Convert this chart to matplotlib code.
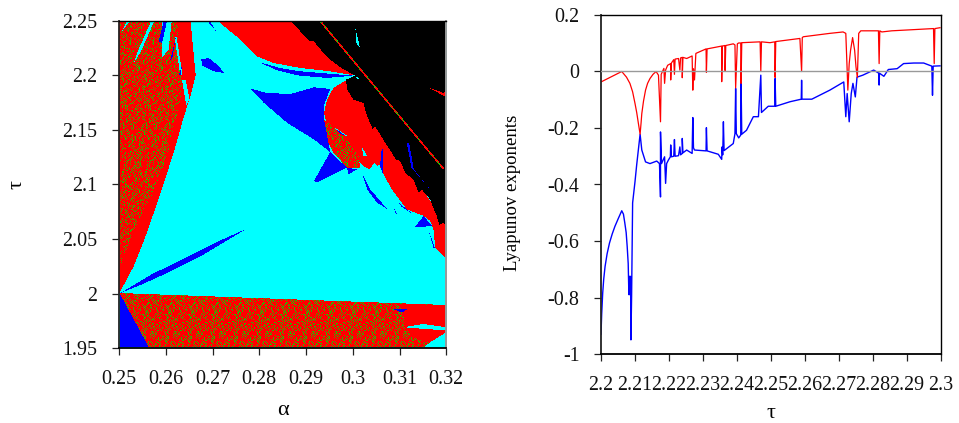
"""
Карта режимов (alpha, tau) и показатели Ляпунова
"""

import numpy as np
import matplotlib
matplotlib.use('Agg')
import matplotlib.pyplot as plt
from matplotlib.path import Path

plt.rcParams['font.family'] = ['Liberation Serif', 'DejaVu Serif']

# области карты режимов (alpha, tau)
red_left = [(.25, 2.0), (.2531, 2.025), (.2559, 2.0555), (.2588, 2.0921), (.2616, 2.1287), (.2638, 2.1622),
            (.2652, 2.1805), (.2663, 2.2), (.2652, 2.25), (.25, 2.25)]
speck_left = [(.25, 2.25), (.2623, 2.25), (.2634, 2.19), (.2630, 2.1774), (.2602, 2.1256), (.2566, 2.0860),
              (.2531, 2.0585), (.2502, 2.025), (.25, 2.025)]
speck_low = [(.25, 2.0), (.32, 1.989), (.32, 1.95), (.2563, 1.95)]
red_low = [(.3095, 1.99), (.32, 1.989), (.32, 1.955), (.3151, 1.955), (.3122, 1.962), (.3108, 1.97), (.3112, 1.98)]
red_top = [(.2709, 2.25), (.2866, 2.25), (.2916, 2.2308), (.2951, 2.214), (.3005, 2.1994), (.2951, 2.2034),
           (.2887, 2.2064), (.283, 2.211), (.2794, 2.2171), (.2759, 2.2323)]
red_circle = [(.2987, 2.1957), (.2958, 2.1881), (.2944, 2.1774), (.2938, 2.1652), (.2951, 2.1409), (.2987, 2.1256),
              (.3012, 2.121), (.3022, 2.1165), (.3035, 2.1134), (.3046, 2.1195), (.3052, 2.1165), (.3056, 2.118),
              (.3063, 2.1104), (.3083, 2.0951), (.3115, 2.0768), (.3151, 2.0707), (.3165, 2.0662), (.3172, 2.0585),
              (.3176, 2.0418), (.32, 2.0311), (.32, 2.06), (.31, 2.13), (.30, 2.19)]
black_top = [(.2866, 2.25), (.32, 2.25), (.32, 2.0585), (.3194, 2.0646), (.3185, 2.0625), (.3179, 2.0707),
             (.3172, 2.078), (.3165, 2.086), (.3148, 2.0945), (.3140, 2.0925), (.3129, 2.1043), (.3112, 2.1098),
             (.3101, 2.121), (.3092, 2.1225), (.3069, 2.1378), (.3047, 2.153), (.3042, 2.1505), (.303, 2.1622),
             (.3022, 2.1744), (.3001, 2.1774), (.2987, 2.1866), (.2985, 2.1957), (.3005, 2.1994), (.2978, 2.2055),
             (.2951, 2.214), (.2938, 2.2195), (.2916, 2.2308), (.2905, 2.2315), (.2885, 2.241)]
speck_lens = [(.2938, 2.1591), (.2944, 2.1409), (.2958, 2.1287), (.2987, 2.115), (.3015, 2.115), (.3012, 2.1256),
              (.2987, 2.1409), (.2958, 2.1515)]
speck_diag = [(.2926, 2.25), (.2931, 2.25), (.3197, 2.1134), (.3192, 2.1134)]
red_streak = [(.3158, 2.189), (.3194, 2.1835), (.32, 2.1872), (.32, 2.1805), (.3194, 2.181)]
cyan_areas = [
    [(.2568, 2.25), (.2575, 2.25), (.2547, 2.2226), (.2531, 2.211), (.2540, 2.2226)],
    [(.2516, 2.25), (.2523, 2.25), (.2505, 2.24)],
    [(.2591, 2.25), (.2612, 2.25), (.2605, 2.2232), (.2592, 2.2165), (.2590, 2.2232)],
    [(.3108, 1.9686), (.3151, 1.9716), (.32, 1.9686), (.32, 1.9656), (.3151, 1.9671)],
    [(.3165, 1.9549), (.32, 1.964), (.32, 1.95), (.3151, 1.95)],
    [(.3005, 2.243), (.3015, 2.2247), (.3007, 2.2293)],
    [(.3005, 2.199), (.3015, 2.197), (.3008, 2.1965)],
    [(.2618, 2.235), (.2622, 2.235), (.2635, 2.2), (.263, 2.2)],
    [(.2634, 2.195), (.2642, 2.195), (.265, 2.178), (.2643, 2.172)],
    [(.2956, 2.153), (.2992, 2.143), (.2972, 2.146)],
    [(.3019, 2.134), (.303, 2.1256), (.3022, 2.1256)],
]
blue_areas = [
    [(.25, 2.0), (.2563, 1.95), (.25, 1.95)],
    [(.2602, 2.25), (.2595, 2.25), (.2584, 2.2308), (.2591, 2.2293)],
    [(.262, 2.2338), (.2609, 2.214), (.2613, 2.215)],
    [(.2634, 2.2095), (.2627, 2.2), (.2631, 2.2)],
    [(.2687, 2.25), (.2709, 2.239), (.2692, 2.25)],
    [(.2798, 2.2119), (.2844, 2.2064), (.2887, 2.2034), (.3001, 2.1994), (.2944, 2.1973), (.288, 2.1997),
     (.2837, 2.2043)],
    [(.278, 2.1875), (.2816, 2.1835), (.2866, 2.1826), (.2916, 2.1887), (.2951, 2.1872), (.2937, 2.1713),
     (.2938, 2.1591), (.2951, 2.1293), (.2916, 2.1409), (.2859, 2.1561), (.2809, 2.1744)],
    [(.2951, 2.1293), (.2987, 2.115), (.2923, 2.1012), (.2916, 2.1027)],
    [(.2987, 2.115), (.3008, 2.1134), (.299, 2.1088)],
    [(.2675, 2.2146), (.2691, 2.2155), (.2709, 2.2095), (.2725, 2.2018), (.2702, 2.2034), (.2677, 2.2085)],
    [(.2502, 2.0), (.2566, 2.0165), (.2638, 2.0317), (.2709, 2.0469), (.2773, 2.0591), (.2744, 2.0518),
     (.2673, 2.0335), (.2602, 2.0183), (.2545, 2.0073)],
    [(.3019, 2.1104), (.3037, 2.0951), (.3072, 2.0774), (.3051, 2.083), (.303, 2.0951)],
    [(.3065, 2.1332), (.3065, 2.1073), (.3058, 2.1165), (.306, 2.13)],
    [(.3133, 2.061), (.3151, 2.0707), (.3169, 2.0616), (.3151, 2.0607)],
    [(.3161, 2.0585), (.3176, 2.0402), (.3197, 2.0326), (.3172, 2.0418)],
    [(.3087, 2.0784), (.3096, 2.0713), (.309, 2.0738)],
    [(.3097, 2.083), (.3133, 2.0707), (.3104, 2.079)],
    [(.3087, 1.985), (.3115, 1.985), (.3105, 1.982)],
    [(.2965, 2.15), (.2985, 2.144), (.2972, 2.146)],
    [(.3115, 2.1378), (.312, 2.1378), (.313, 2.1134), (.3165, 2.095), (.3125, 2.115)],
]

# постоянный узор красно-зеленых точек и сдвиг его строк
speck_tile = [
    '01000100100000110000100',
    '00010000001001000100001',
    '10000110000100000010010',
    '00100000100000011000000',
    '00001001000110000001001',
    '11000000010000100100000',
    '00010100000100000000110',
    '00000001100001010000000',
    '01001000000000000101001',
    '00100010010110000000100',
    '10000000100000001010000',
    '00011000000101000000011',
    '01000001000000100100000',
    '00000100011000000001000',
    '10100000000010010000101',
    '00001010000000100010000',
    '01000000110100000000010',
    '00010000000000011001000',
    '10000101001000000100000',
]
speck_shift = [0, 5, 11, 2, 17, 8, 20, 13, 3, 9, 15, 1, 6, 19, 12, 4, 22]

# показатели Ляпунова
tau_red = [2.2, 2.2061, 2.2075, 2.2085, 2.2093, 2.21, 2.2105, 2.211, 2.2115, 2.2118, 2.212, 2.2125, 2.2131, 2.2137,
           2.2144, 2.2153, 2.2162, 2.2169, 2.2175, 2.2177, 2.2185,
           2.2187, 2.219, 2.2196, 2.2205, 2.2205, 2.2207, 2.2214, 2.2216, 2.2218, 2.2228, 2.2232, 2.2234, 2.2239,
           2.2239, 2.2241, 2.2252, 2.2268, 2.227, 2.2272, 2.2275, 2.2279, 2.2309, 2.231, 2.2312, 2.2355, 2.2355,
           2.2357, 2.2364, 2.2365, 2.2367, 2.2389, 2.2394, 2.2396, 2.2401, 2.2405, 2.2411, 2.2412, 2.2414, 2.2468,
           2.247, 2.2472, 2.2497, 2.2511, 2.2512, 2.2514, 2.2585, 2.259, 2.2592, 2.2595, 2.2673, 2.2712, 2.272,
           2.2724, 2.2726, 2.273, 2.2734, 2.274, 2.2746, 2.275, 2.2754, 2.2758, 2.2764, 2.2816, 2.2818, 2.282,
           2.2826, 2.2855, 2.2978, 2.298, 2.2982, 2.2997]
lyap_red = [-.037, 0, -.02, -.042, -.072, -.113, -.145, -.184, -.222, -.18, -.149, -.105, -.066, -.042,
            -.025, -.01, 0, -.013, -.178, -.01, .011,
            -.042, .005, .022, .028, -.03, .03, .042, -.01, .044, .046, .005, .048, .05,
            -.022, .05, .046, .055, -.066, .01, -.03, .064, .08, -.003, .08, .09, -.036,
            .09, .092, .003, .092, .098, .094, -.058, .098, .101, .101, -.042, .102, .105,
            0, .105, .102, .105, -.021, .106, .117, 0, .12, .123, .135, .14, .135,
            .005, -.066, .028, .075, .12, .075, .016, -.021, .135, .144, .144, .028, .144,
            .14, .144, .152, .028, .152, .155]
tau_blue = [2.2, 2.2002, 2.2005, 2.2008, 2.2012, 2.2018, 2.2025, 2.2033, 2.2041, 2.2051, 2.2061, 2.2066, 2.207,
            2.2074, 2.2077, 2.208, 2.2082, 2.2084, 2.2085, 2.2087, 2.2088,
            2.209, 2.2093, 2.21, 2.2105, 2.2115, 2.212, 2.2131, 2.2144, 2.2164, 2.2172, 2.2175, 2.2175, 2.2178,
            2.2187, 2.219, 2.2193, 2.2198, 2.2204, 2.2205, 2.2207, 2.2214, 2.2216, 2.2218, 2.2228, 2.2232, 2.2234,
            2.2239, 2.2239, 2.2241, 2.2252, 2.2268, 2.227, 2.2272, 2.2275, 2.2309, 2.231, 2.2312, 2.2345, 2.2355,
            2.2356, 2.2358, 2.236, 2.2362, 2.2389, 2.2394, 2.2396, 2.2398, 2.2405, 2.2411, 2.2412, 2.2414, 2.2428,
            2.2448, 2.2463, 2.247, 2.2472, 2.2492, 2.2511, 2.2512, 2.2514, 2.2556, 2.2589, 2.259, 2.2591, 2.262,
            2.2673, 2.2714, 2.272, 2.2724, 2.273, 2.2736, 2.2741, 2.2748, 2.2753, 2.277, 2.2802, 2.2817, 2.2818,
            2.2819, 2.2832, 2.2845, 2.2871, 2.289, 2.292, 2.2949, 2.2973, 2.2975, 2.2977, 2.2997]
lyap_blue = [-.93, -.86, -.784, -.735, -.69, -.645, -.607, -.575, -.548, -.52, -.493, -.505, -.536,
             -.57, -.619, -.68, -.79, -.725, -.79, -.725, -.95,
             -.796, -.465, -.39, -.33, -.222, -.278, -.32, -.326, -.317, -.326, -.444, -.214, -.326,
             -.302, -.396, -.326, -.314, -.302, -.26, -.302, -.3, -.241, -.3, -.298, -.267, -.295,
             -.29, -.237, -.288, -.278, -.29, -.163, -.27, -.278, -.281, -.199, -.281, -.293, -.311,
             -.267, -.295, -.178, -.28, -.255, -.22, -.06, -.22, -.235, -.225, -.042, -.222, -.208,
             -.16, -.16, -.013, -.145, -.123, -.123, -.025, -.123, -.107, -.098, -.031, -.098, -.098,
             -.066, -.037, -.16, -.078, -.178, -.078, -.042, -.09, -.02, -.013, .005, -.006, -.048,
             -.006, -.017, .007, .01, .028, .03, .03, .019, -.084, .019, .02]

alpha_ticks = [0.25, 0.26, 0.27, 0.28, 0.29, 0.3, 0.31, 0.32]
alpha_labels = ['0.25', '0.26', '0.27', '0.28', '0.29', '0.3', '0.31', '0.32']
tau_ticks = [1.95, 2, 2.05, 2.1, 2.15, 2.2, 2.25]
tau_labels = ['1.95', '2', '2.05', '2.1', '2.15', '2.2', '2.25']
line_xticks = [2.2, 2.21, 2.22, 2.23, 2.24, 2.25, 2.26, 2.27, 2.28, 2.29, 2.3]
line_xlabels = ['2.2', '2.21', '2.22', '2.23', '2.24', '2.25', '2.26', '2.27', '2.28', '2.29', '2.3']
line_yticks = [-1, -0.8, -0.6, -0.4, -0.2, 0, 0.2]
line_ylabels = ['-1', '-0.8', '-0.6', '-0.4', '-0.2', '0', '0.2']

CYAN, RED, BLUE, BLACK, SPECK = 0, 1, 2, 3, 4
COLORS = {CYAN: (0, 1, 1), RED: (1, 0, 0), BLUE: (0, 0, 1), BLACK: (0, 0, 0)}
GREEN = (0.15, 0.72, 0.0)


def regime_map(n=328):
    """Собираем карту режимов из областей, поздние закрывают ранние"""
    a = np.linspace(.25, .32, n)
    t = np.linspace(1.95, 2.25, n)
    aa, tt = np.meshgrid(a, t)
    pts = np.column_stack([aa.ravel(), tt.ravel()])
    labels = np.full(aa.shape, CYAN)

    layers = [(red_left, RED), (speck_left, SPECK)]
    layers += [(c, CYAN) for c in cyan_areas[:3]]
    layers += [(speck_low, SPECK), (red_low, RED)]
    layers += [(c, CYAN) for c in cyan_areas[3:5]]
    layers += [(red_top, RED), (red_circle, RED), (black_top, BLACK), (speck_lens, SPECK)]
    layers += [(c, CYAN) for c in cyan_areas[5:]]
    layers += [(b, BLUE) for b in blue_areas]
    layers += [(speck_diag, SPECK), (red_streak, RED)]
    for poly, label in layers:
        labels[Path(poly).contains_points(pts).reshape(aa.shape)] = label

    tile = np.array([[int(c) for c in row] for row in speck_tile])
    rows, cols = np.indices(aa.shape)
    # сдвиг строк, чтобы узор не читался как решетка
    shifts = np.array(speck_shift)[rows % len(speck_shift)]
    green = tile[rows % tile.shape[0], (cols + shifts) % tile.shape[1]] == 1
    rgb = np.zeros(aa.shape + (3,))
    for label, color in COLORS.items():
        rgb[labels == label] = color
    rgb[(labels == SPECK) & ~green] = COLORS[RED]
    rgb[(labels == SPECK) & green] = GREEN
    return rgb


def style_axes(ax):
    for side in ['left', 'bottom']:
        ax.spines[side].set_linewidth(1.3)
    for side in ['top', 'right']:
        ax.spines[side].set_linewidth(1.0)
    ax.spines['left'].set_color('#222222')
    ax.tick_params(direction='out', length=5, width=0.9, pad=10.5, labelsize=14.4, color='#222222', labelcolor='#111111')


fig = plt.figure(figsize=(9.59, 4.23), dpi=100)

ax1 = fig.add_axes([119 / 959, 1 - 348.3 / 423, 327.3 / 959, 327.6 / 423])
ax1.imshow(regime_map(), origin='lower', extent=(.25, .32, 1.95, 2.25), aspect='auto', interpolation='nearest')
ax1.set_xlim(.25, .32)
ax1.set_ylim(1.95, 2.25)
ax1.set_xticks(alpha_ticks, alpha_labels)
ax1.set_yticks(tau_ticks, tau_labels)
style_axes(ax1)
ax1.spines['right'].set_color('#999999')
ax1.spines['right'].set_linewidth(1.4)
ax1.set_xlabel('α', fontsize=16)
ax1.xaxis.set_label_coords(0.5, -0.161)
ax1.set_ylabel('τ', fontsize=16)
ax1.yaxis.set_label_coords(-0.282, 0.5)

ax2 = fig.add_axes([601 / 959, 1 - 354 / 423, 340 / 959, 339 / 423])
ax2.plot([2.2, 2.3], [0, 0], color='#999999', lw=1.0, zorder=3)
ax2.plot(tau_blue, lyap_blue, color='#0000ff', lw=1.0)
ax2.plot(tau_red, lyap_red, color='#ff0000', lw=0.9)
ax2.set_xlim(2.2, 2.3)
ax2.set_ylim(-1, 0.2)
ax2.set_xticks(line_xticks, line_xlabels)
ax2.set_yticks(line_yticks, line_ylabels)
style_axes(ax2)
ax2.set_xlabel('τ', fontsize=16)
ax2.xaxis.set_label_coords(0.5, -0.147)
ax2.set_ylabel('Lyapunov exponents', fontsize=13.5)
ax2.yaxis.set_label_coords(-0.235, 0.476)

fig.savefig('out.png', dpi=100)
